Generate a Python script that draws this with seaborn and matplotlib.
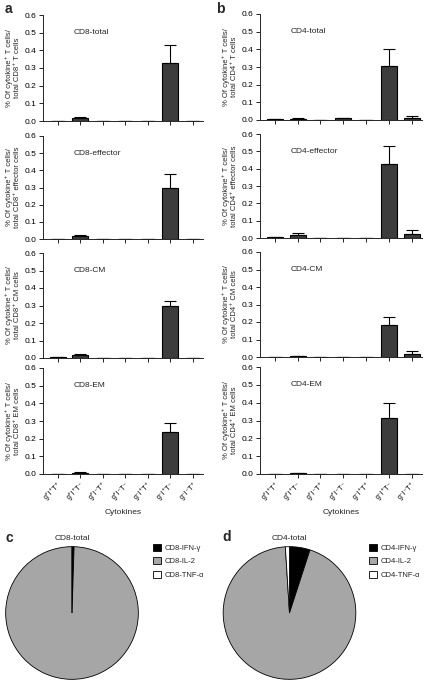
import numpy as np
import pandas as pd
import matplotlib
matplotlib.use("Agg")
import matplotlib.pyplot as plt
from matplotlib.patches import Patch
import seaborn as sns

# style
sns.set_style("ticks")
plt.rcParams['font.family'] = ['Liberation Sans', 'DejaVu Sans']

# data
cytokines = ["g⁺I⁺T⁺", "g⁺I⁺T⁻", "g⁺I⁻T⁺", "g⁺I⁻T⁻", "g⁻I⁺T⁺", "g⁻I⁺T⁻", "g⁻I⁻T⁺"]

cd8_titles = ["CD8-total", "CD8-effector", "CD8-CM", "CD8-EM"]
cd4_titles = ["CD4-total", "CD4-effector", "CD4-CM", "CD4-EM"]
cell_names = ["T", "effector", "CM", "EM"]

cd8_total = [0.001, 0.018, 0.0, 0.0, 0.0, 0.33, 0.0]
cd8_total_err = [0.0, 0.007, 0.0, 0.0, 0.0, 0.10, 0.0]
cd8_effector = [0.0, 0.015, 0.0, 0.002, 0.0, 0.30, 0.002]
cd8_effector_err = [0.0, 0.007, 0.0, 0.0, 0.0, 0.08, 0.0]
cd8_cm = [0.004, 0.015, 0.0, 0.0, 0.0, 0.30, 0.0]
cd8_cm_err = [0.0, 0.010, 0.0, 0.0, 0.0, 0.025, 0.0]
cd8_em = [0.0, 0.008, 0.0, 0.0, 0.0, 0.24, 0.0]
cd8_em_err = [0.0, 0.004, 0.0, 0.0, 0.0, 0.05, 0.0]

cd4_total = [0.003, 0.008, 0.0, 0.010, 0.002, 0.305, 0.012]
cd4_total_err = [0.0, 0.004, 0.0, 0.004, 0.0, 0.095, 0.008]
cd4_effector = [0.005, 0.020, 0.0, 0.002, 0.0, 0.425, 0.025]
cd4_effector_err = [0.0, 0.010, 0.0, 0.0, 0.0, 0.105, 0.020]
cd4_cm = [0.0, 0.003, 0.0, 0.0, 0.0, 0.185, 0.015]
cd4_cm_err = [0.0, 0.0, 0.0, 0.0, 0.0, 0.045, 0.017]
cd4_em = [0.0, 0.005, 0.0, 0.0, 0.0, 0.315, 0.0]
cd4_em_err = [0.0, 0.0, 0.0, 0.0, 0.0, 0.085, 0.0]

cd8_means = [cd8_total, cd8_effector, cd8_cm, cd8_em]
cd8_errs = [cd8_total_err, cd8_effector_err, cd8_cm_err, cd8_em_err]
cd4_means = [cd4_total, cd4_effector, cd4_cm, cd4_em]
cd4_errs = [cd4_total_err, cd4_effector_err, cd4_cm_err, cd4_em_err]

pie_labels = ["IFN-γ", "IL-2", "TNF-α"]
cd8_pie = [0.5, 99.5, 0.0]
cd4_pie = [5.0, 94.0, 1.0]
pie_colors = ["black", "#a6a6a6", "white"]

W, H = 425, 681


def rect(x0, y_top, x1, y_bot):
    return [x0 / W, 1 - y_bot / H, (x1 - x0) / W, (y_bot - y_top) / H]


fig = plt.figure(figsize=(W / 100, H / 100), dpi=100)

left_rows = [(15, 121), (136, 239), (253, 358), (368, 474)]
right_rows = [(14, 120), (134, 238), (252, 357), (367, 474)]
columns = [
    (43, 203, left_rows, cd8_titles, cd8_means, cd8_errs, "CD8"),
    (260, 422, right_rows, cd4_titles, cd4_means, cd4_errs, "CD4"),
]

for x0, x1, rows, titles, means, errs, cd in columns:
    for i, (yt, yb) in enumerate(rows):
        ax = fig.add_axes(rect(x0, yt, x1, yb))
        df = pd.DataFrame({"cyt": cytokines, "val": means[i]})
        sns.barplot(data=df, x="cyt", y="val", order=cytokines, color="#3c3c3c",
                    saturation=1, edgecolor="black", linewidth=0.8, width=0.7, ax=ax)
        pos = np.arange(len(cytokines))
        ax.errorbar(pos, means[i], yerr=[np.zeros(len(pos)), errs[i]], fmt="none",
                    ecolor="black", elinewidth=0.8, capsize=4, capthick=0.8)
        ax.set_ylim(0, 0.6)
        ax.set_xlim(-0.65, 6.45)
        ax.set_yticks(np.arange(0, 0.61, 0.1))
        ax.set_yticklabels([f"{v:.1f}" for v in np.arange(0, 0.61, 0.1)], fontsize=6)
        ax.tick_params(axis="both", length=3, width=0.6, pad=1.5, colors="black")
        ax.set_ylabel(f"% Of cytokine⁺ T cells/\ntotal {cd}⁺ {cell_names[i]} cells",
                      fontsize=5.5, labelpad=3, linespacing=1.1)
        ax.text(0.7, 0.5, titles[i], fontsize=6, ha="left", va="center")
        for s in ["left", "bottom"]:
            ax.spines[s].set_linewidth(0.7)
        sns.despine(ax=ax)
        ax.set_xticks(pos)
        if i == 3:
            ax.set_xticklabels(cytokines, rotation=45, fontsize=5, ha="right",
                               rotation_mode="anchor")
            ax.set_xlabel("Cytokines", fontsize=6, labelpad=6)
        else:
            ax.set_xticklabels([])
            ax.set_xlabel("")

# panel letters
fig.text(5 / W, 1 - 9 / H, "a", fontsize=10, fontweight="bold", va="center")
fig.text(216 / W, 1 - 9 / H, "b", fontsize=10, fontweight="bold", va="center")
fig.text(5 / W, 1 - 538 / H, "c", fontsize=10, fontweight="bold", va="center")
fig.text(222 / W, 1 - 537 / H, "d", fontsize=10, fontweight="bold", va="center")

# pie charts
pies = [
    (5, 139, cd8_pie, "CD8", 150),
    (222, 357, cd4_pie, "CD4", 366),
]
for px0, px1, vals, cd, lx in pies:
    ax = fig.add_axes(rect(px0, 546, px1, 680))
    ax.pie(vals, colors=pie_colors, startangle=90, counterclock=False,
           wedgeprops=dict(edgecolor="black", linewidth=0.6))
    ax.set_aspect("equal")
    ax.set_xlim(-1.01, 1.01)
    ax.set_ylim(-1.01, 1.01)
    ax.set_title(f"{cd}-total", fontsize=6, pad=4)
    handles = [Patch(facecolor=c, edgecolor="black", linewidth=0.6) for c in pie_colors]
    labels = [f"{cd}-{l}" for l in pie_labels]
    fig.legend(handles, labels, loc="upper left", bbox_to_anchor=(lx / W, 1 - 541 / H),
               frameon=False, fontsize=5.5, handlelength=1.0, handleheight=1.0,
               handletextpad=0.5, labelspacing=0.7, borderaxespad=0)

fig.savefig("out.png", dpi=100)
